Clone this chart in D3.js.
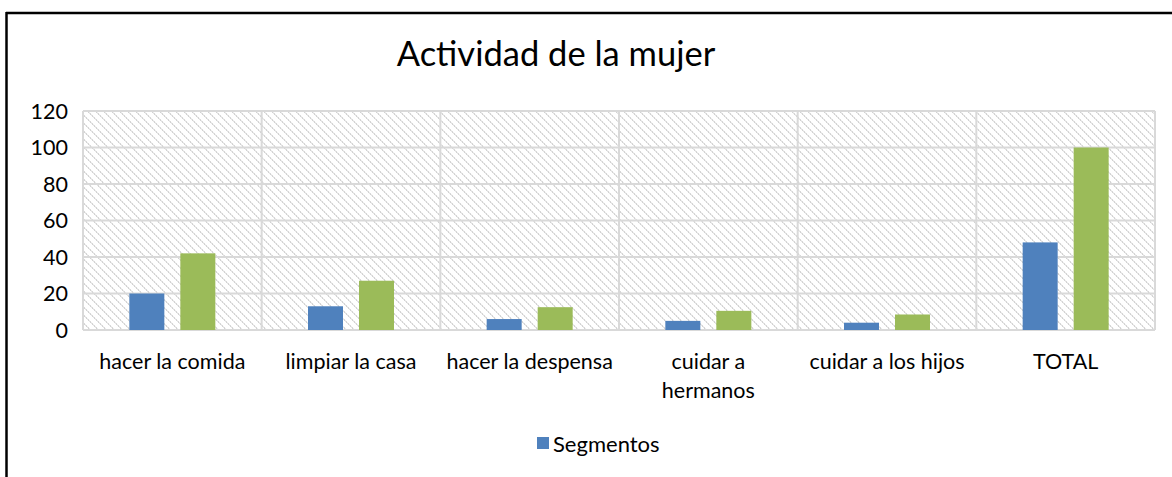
<!DOCTYPE html>
<html>
<head>
<meta charset="utf-8">
<script src="https://cdn.jsdelivr.net/npm/d3@7"></script>
<style>
  body { margin: 0; background: #fff; }
  svg { display: block; font-family: Lato, "Open Sans", sans-serif; }
</style>
</head>
<body>
<svg id="chart" width="1172" height="477"></svg>
<script>
// data
var categories = ["hacer la comida", "limpiar la casa", "hacer la despensa", "cuidar a hermanos", "cuidar a los hijos", "TOTAL"];
var segmentos = [20, 13, 6, 5, 4, 48];
var serie2 = [42, 27, 12.5, 10.5, 8.5, 100];
var yTicks = [0, 20, 40, 60, 80, 100, 120];

var svg = d3.select("#chart");

var plotLeft = 83, plotRight = 1155, plotTop = 111, plotBottom = 330;

var x = d3.scaleBand().domain(categories).range([plotLeft, plotRight]);
var y = d3.scaleLinear().domain([0, 120]).range([plotBottom, plotTop]);

// outer frame (only top & left visible)
svg.append("line").attr("x1", 6).attr("x2", 1172).attr("y1", 13).attr("y2", 13)
    .attr("stroke", "#000").attr("stroke-width", 2.5);
svg.append("line").attr("x1", 6.5).attr("x2", 6.5).attr("y1", 12).attr("y2", 477)
    .attr("stroke", "#000").attr("stroke-width", 2.5);

// hatch pattern (light dotted downward diagonal)
var defs = svg.append("defs");
var pat = defs.append("pattern").attr("id", "hatch")
    .attr("patternUnits", "userSpaceOnUse")
    .attr("width", 8).attr("height", 8);
pat.append("rect").attr("width", 8).attr("height", 8).attr("fill", "#fff");
d3.range(8).forEach(function(i) {
    pat.append("rect").attr("x", i).attr("y", i).attr("width", 1).attr("height", 1)
        .attr("fill", i % 2 ? "#e4e4e4" : "#d2d2d2");
    pat.append("rect").attr("x", (i + 1) % 8).attr("y", i).attr("width", 1).attr("height", 1)
        .attr("fill", i % 2 ? "#d8d8d8" : "#ececec");
});

svg.append("rect").attr("x", plotLeft).attr("y", plotTop)
    .attr("width", plotRight - plotLeft).attr("height", plotBottom - plotTop)
    .attr("fill", "url(#hatch)");

// grid
svg.selectAll(".hgrid").data(yTicks).enter().append("line")
    .attr("x1", plotLeft).attr("x2", plotRight)
    .attr("y1", function(d) { return y(d); }).attr("y2", function(d) { return y(d); })
    .attr("stroke", "#d9d9d9").attr("stroke-width", 2);

var vLines = categories.map(function(c) { return x(c); }).concat([plotRight]);
svg.selectAll(".vgrid").data(vLines).enter().append("line")
    .attr("x1", function(d) { return d; }).attr("x2", function(d) { return d; })
    .attr("y1", plotTop).attr("y2", plotBottom)
    .attr("stroke", "#d9d9d9").attr("stroke-width", 2);

// bars
var bw = x.bandwidth();
var barW = 35;
svg.selectAll(".b1").data(segmentos).enter().append("rect")
    .attr("x", function(d, i) { return x(categories[i]) + bw * 0.5 - barW - 8; })
    .attr("y", function(d) { return y(d); })
    .attr("width", barW)
    .attr("height", function(d) { return y(0) - y(d); })
    .attr("fill", "#4f81bd");
svg.selectAll(".b2").data(serie2).enter().append("rect")
    .attr("x", function(d, i) { return x(categories[i]) + bw * 0.5 + 8; })
    .attr("y", function(d) { return y(d); })
    .attr("width", barW)
    .attr("height", function(d) { return y(0) - y(d); })
    .attr("fill", "#9bbb59");

// y axis labels
svg.selectAll(".ytick").data(yTicks).enter().append("text")
    .attr("x", 68).attr("y", function(d) { return y(d); })
    .attr("dy", "0.35em")
    .attr("text-anchor", "end")
    .attr("font-size", 21.5)
    .attr("fill", "#000")
    .text(function(d) { return d; });

// category labels (wrap)
var catLines = {
    "cuidar a hermanos": ["cuidar a", "hermanos"]
};
categories.forEach(function(c) {
    var lines = catLines[c] || [c];
    var t = svg.append("text")
        .attr("x", x(c) + bw / 2).attr("y", 369)
        .attr("text-anchor", "middle")
        .attr("font-size", 21.5)
        .attr("fill", "#000");
    lines.forEach(function(l, j) {
        t.append("tspan").attr("x", x(c) + bw / 2).attr("dy", j === 0 ? 0 : 29).text(l);
    });
});

// title
svg.append("text").attr("x", 556).attr("y", 66)
    .attr("text-anchor", "middle")
    .attr("font-size", 34.5)
    .attr("fill", "#000")
    .text("Actividad de la mujer");

// legend
svg.append("rect").attr("x", 537).attr("y", 437).attr("width", 12).attr("height", 12).attr("fill", "#4f81bd");
svg.append("text").attr("x", 553).attr("y", 452)
    .attr("font-size", 22).attr("fill", "#000")
    .text("Segmentos");
</script>
</body>
</html>
